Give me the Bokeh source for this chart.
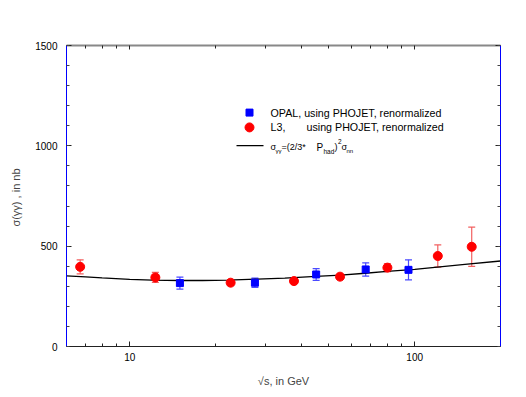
import math
from bokeh.plotting import figure
from bokeh.models import (Range1d, LinearAxis, LogAxis, FixedTicker, SingleIntervalTicker,
                          PrintfTickFormatter, ColumnDataSource, Whisker, Label, TeeHead)
from bokeh.embed import file_html
from bokeh.resources import INLINE

# ---- data ----
l3_x = [6.7, 12.3, 22.6, 37.7, 54.7, 80.2, 120.5, 158.5]
l3_y = [397, 344, 318, 326, 348, 393, 451, 497]
l3_err = [35, 25, 15, 12, 12, 20, 55, 98]

opal_x = [15.0, 27.5, 45.1, 67.3, 95.1]
opal_y = [316, 318, 359, 384, 382]
opal_err = [30, 23, 29, 33, 50]

curve_x = [6, 7, 8, 10, 12, 15, 18, 22, 28, 35, 45, 55, 67, 80, 100, 120, 150, 200]
curve_y = [352, 347, 342, 335, 331, 329, 329, 331, 336, 341, 349, 356, 365, 374, 384, 396, 409, 426]

x_major = [10, 100]
x_minor = [7, 8, 9, 20, 30, 40, 50, 60, 70, 80, 90]

FONT = "Liberation Sans"
X0, X1 = 6, 200
Y0, Y1 = 0, 1500

p = figure(width=518, height=389, x_axis_type="log", output_backend="svg",
           toolbar_location=None, x_range=Range1d(X0, X1), y_range=Range1d(Y0, Y1),
           min_border_left=66, min_border_right=18, min_border_top=45, min_border_bottom=39)
p.outline_line_color = None
p.grid.visible = False
p.background_fill_color = "white"
p.border_fill_color = "white"

# bottom x axis
xt = FixedTicker(ticks=x_major, minor_ticks=x_minor)
xa = p.xaxis[0]
xa.ticker = xt
xa.formatter = PrintfTickFormatter(format="%d")
xa.axis_line_color = "#222222"
xa.major_tick_in = 5
xa.major_tick_out = 0
xa.minor_tick_in = 3
xa.minor_tick_out = 0
xa.major_tick_line_color = "#222222"
xa.minor_tick_line_color = "#222222"
xa.major_label_text_font = FONT
xa.major_label_text_font_size = "10px"
xa.major_label_text_color = "black"
xa.major_label_standoff = 6
xa.axis_label = "\u221as, in GeV"
xa.axis_label_text_font = FONT
xa.axis_label_text_font_size = "11px"
xa.axis_label_text_font_style = "normal"
xa.axis_label_standoff = 11

# top axis
ta = LogAxis(ticker=FixedTicker(ticks=x_major, minor_ticks=x_minor),
             axis_line_color="#888888", axis_line_width=2,
             major_tick_in=4, major_tick_out=0, minor_tick_in=3, minor_tick_out=0,
             major_tick_line_color="#222222", minor_tick_line_color="#222222",
             major_label_text_font_size="0px", major_label_text_alpha=0)
p.add_layout(ta, "above")

# left y axis
ya = p.yaxis[0]
ya.ticker = SingleIntervalTicker(interval=500, num_minor_ticks=5)
ya.axis_line_color = "#0000ff"
ya.major_tick_in = 5
ya.major_tick_out = 0
ya.minor_tick_in = 3
ya.minor_tick_out = 0
ya.major_tick_line_color = "#222222"
ya.minor_tick_line_color = "#444444"
ya.major_label_text_font = FONT
ya.major_label_text_font_size = "10px"
ya.major_label_text_color = "black"
ya.major_label_standoff = 9
ya.axis_label = "\u03c3(\u03b3\u03b3)  , in nb"
ya.axis_label_text_font = FONT
ya.axis_label_text_font_size = "11px"
ya.axis_label_text_font_style = "normal"
ya.axis_label_standoff = 10

# right y axis
ra = LinearAxis(ticker=SingleIntervalTicker(interval=500, num_minor_ticks=5),
                axis_line_color="#0000ff",
                major_tick_in=5, major_tick_out=0, minor_tick_in=3, minor_tick_out=0,
                major_tick_line_color="#222222", minor_tick_line_color="#444444",
                major_label_text_font_size="0px", major_label_text_alpha=0)
p.add_layout(ra, "right")

# curve
p.line(curve_x, curve_y, line_color="black", line_width=1.3)

# error bars
l3_src = ColumnDataSource(dict(x=l3_x, y=l3_y,
                               lo=[v - e for v, e in zip(l3_y, l3_err)],
                               hi=[v + e for v, e in zip(l3_y, l3_err)]))
opal_src = ColumnDataSource(dict(x=opal_x, y=opal_y,
                                 lo=[v - e for v, e in zip(opal_y, opal_err)],
                                 hi=[v + e for v, e in zip(opal_y, opal_err)]))
for src, col in ((l3_src, "#f26060"), (opal_src, "#4a4aff")):
    w = Whisker(source=src, base="x", upper="hi", lower="lo", line_color=col, line_width=1.2,
                upper_head=TeeHead(size=7, line_color=col, line_width=1.2),
                lower_head=TeeHead(size=7, line_color=col, line_width=1.2))
    p.add_layout(w)

p.scatter(l3_x, l3_y, marker="circle", size=9, fill_color="#ff0000", line_color="#ff0000")
p.scatter(opal_x, opal_y, marker="square", size=7, fill_color="#0000ff", line_color="#0000ff")

# ---- legend (drawn manually; positions in page pixels converted to data) ----
FL, FR, FT, FB = 66, 500, 45, 350
def lx(px):
    return 10 ** (math.log10(X0) + (px - FL) / (FR - FL) * math.log10(X1 / X0))
def ly(py):
    return Y0 + (FB - py) / (FB - FT) * (Y1 - Y0)

p.scatter([lx(249)], [ly(113)], marker="square", size=7, fill_color="#0000ff", line_color="#0000ff")
p.scatter([lx(249)], [ly(128)], marker="circle", size=9, fill_color="#ff0000", line_color="#ff0000")
p.line([lx(236), lx(263)], [ly(146.5), ly(146.5)], line_color="black", line_width=1.3)

def txt(s, px, py, size="10.7px", baseline="middle"):
    p.add_layout(Label(x=lx(px), y=ly(py), text=s, text_font=FONT, text_font_size=size,
                       text_baseline=baseline, text_align="left", text_color="black"))

txt("OPAL, using PHOJET, renormalized", 270, 113)
txt("L3,", 270, 128)
txt("using PHOJET, renormalized", 306, 128)
# formula
txt("\u03c3", 270, 148, "9px", "alphabetic")
txt("\u03b3\u03b3", 275, 152, "6px", "alphabetic")
txt("=(2/3*", 281, 148, "9px", "alphabetic")
txt("P", 316, 148, "10px", "alphabetic")
txt("had", 323, 152, "6.5px", "alphabetic")
txt(")", 334, 148, "9px", "alphabetic")
txt("2", 337.5, 142, "6.5px", "alphabetic")
txt("\u03c3", 341, 148, "9px", "alphabetic")
txt("nn", 346, 152, "6px", "alphabetic")

open("out.html", "w").write(file_html(p, INLINE))
